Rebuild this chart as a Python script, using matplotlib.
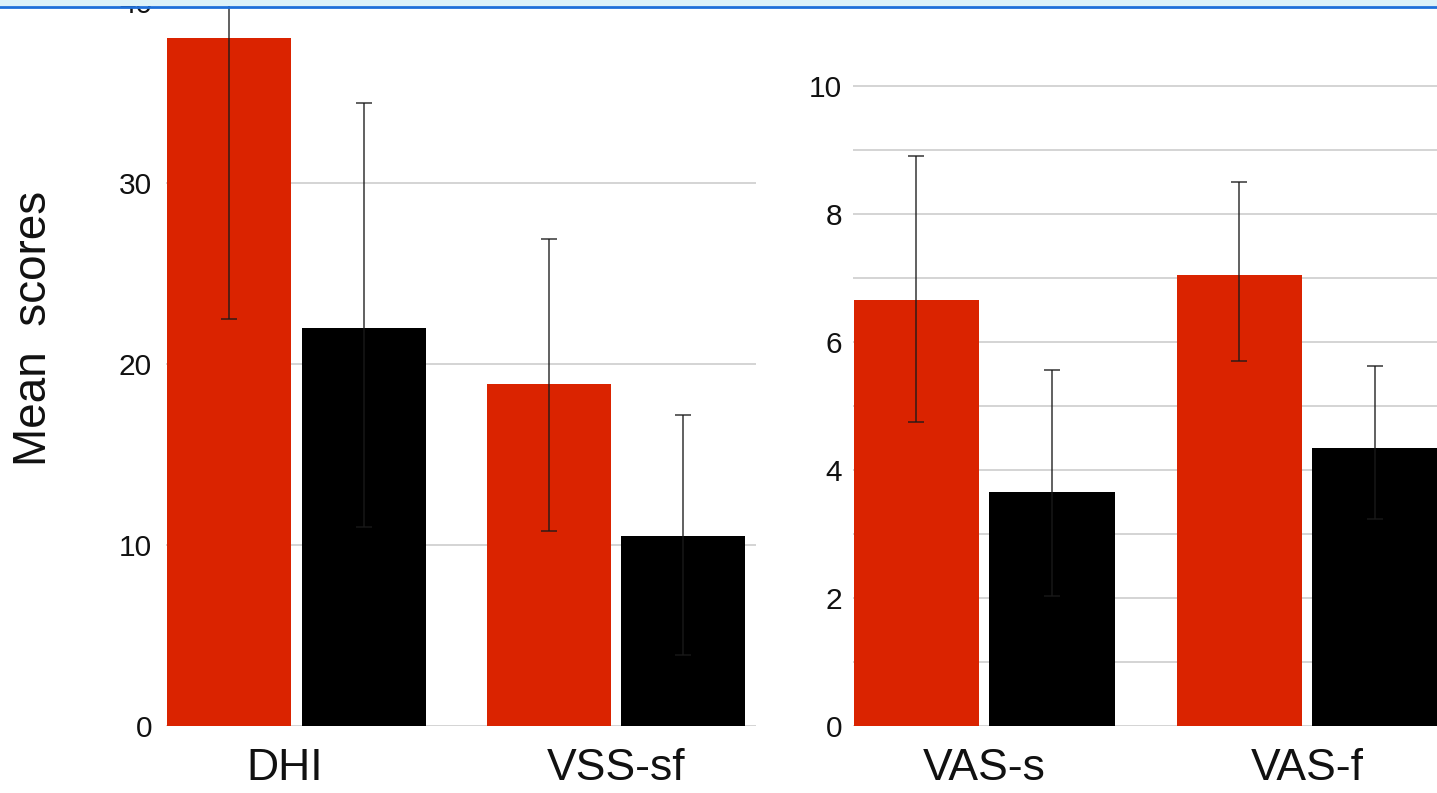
import matplotlib
matplotlib.use("Agg")
import matplotlib.pyplot as plt
from matplotlib.patches import Rectangle
from matplotlib.lines import Line2D
from matplotlib.ticker import MultipleLocator
from matplotlib.transforms import ScaledTranslation
import numpy as np

plt.rcParams['font.family'] = ['Liberation Sans', 'DejaVu Sans']

# ---- data ----
left_categories = ["DHI", "VSS-sf"]
left_red_mean = [38.0, 18.9]
left_red_lo = [15.5, 8.1]
left_red_hi = [15.5, 8.0]
left_black_mean = [22.0, 10.5]
left_black_lo = [11.0, 6.6]
left_black_hi = [12.4, 6.7]

right_categories = ["VAS-s", "VAS-f"]
right_red_mean = [6.65, 7.05]
right_red_lo = [1.9, 1.34]
right_red_hi = [2.25, 1.45]
right_black_mean = [3.65, 4.34]
right_black_lo = [1.62, 1.11]
right_black_hi = [1.92, 1.28]

left_yticks = [0, 10, 20, 30, 40]
right_yticks = [0, 2, 4, 6, 8, 10]

RED = "#da2300"
BLACK = "#000000"
GRID = "#d4d4d4"
ECOL = (0.1, 0.1, 0.1, 0.75)

W, H = 1437, 793
fig = plt.figure(figsize=(W / 100, H / 100), dpi=100)


def px_axes(x0, x1, y0, y1):
    # pixel box (top-left origin) -> figure fraction
    return [x0 / W, 1 - y1 / H, (x1 - x0) / W, (y1 - y0) / H]


def draw_panel(ax, cats, rm, rlo, rhi, bm, blo, bhi, width, off, xlim, ylim, yticks, minor):
    x = np.arange(len(cats))
    ax.bar(x - off, rm, width, color=RED, zorder=2)
    ax.bar(x + off, bm, width, color=BLACK, zorder=2)
    ax.errorbar(x - off, rm, yerr=[rlo, rhi], fmt="none", ecolor=ECOL,
                elinewidth=1.3, capsize=6, capthick=1.3, zorder=3)
    ax.errorbar(x + off, bm, yerr=[blo, bhi], fmt="none", ecolor=ECOL,
                elinewidth=1.3, capsize=6, capthick=1.3, zorder=3)
    ax.set_xlim(*xlim)
    ax.set_ylim(*ylim)
    ax.set_yticks(yticks)
    ax.set_yticklabels([str(t) for t in yticks], fontsize=21.5, color="#111111")
    if minor:
        ax.yaxis.set_minor_locator(MultipleLocator(minor))
        ax.grid(True, axis="y", which="minor", color=GRID, lw=1.4)
    ax.grid(True, axis="y", which="major", color=GRID, lw=1.4)
    ax.set_axisbelow(True)
    ax.set_xticks(x)
    ax.set_xticklabels(cats, fontsize=32, color="#111111")
    ax.tick_params(axis="both", which="both", length=0)
    ax.tick_params(axis="x", pad=16)
    for s in ax.spines.values():
        s.set_visible(False)
    ax.patch.set_alpha(0)


# left panel: 0 at y=726, 18.1 px per unit; group pitch 319.5 px
LH = 42 * 18.1
axL = fig.add_axes(px_axes(166, 756, 726 - LH, 726))
draw_panel(axL, left_categories, left_red_mean, left_red_lo, left_red_hi,
           left_black_mean, left_black_lo, left_black_hi,
           width=0.388, off=0.21, xlim=(-0.4085, 1.438), ylim=(0, 42),
           yticks=left_yticks, minor=None)
axL.tick_params(axis="y", pad=10)
axL.set_ylabel("Mean  scores", fontsize=33, color="#111111")
axL.yaxis.set_label_coords(-(166 - 56) / 590, (726 - 328) / LH)
# the DHI label sits slightly left of its group centre in the reference
lab0 = axL.get_xticklabels()[0]
lab0.set_transform(lab0.get_transform() + ScaledTranslation(-0.12, 0, fig.dpi_scale_trans))

# right panel: 0 at y=726, 64 px per unit; group pitch 323 px
axR = fig.add_axes(px_axes(853, 853 + 1.8356 * 323, 726 - 10.8 * 64, 726))
draw_panel(axR, right_categories, right_red_mean, right_red_lo, right_red_hi,
           right_black_mean, right_black_lo, right_black_hi,
           width=0.387, off=0.2105, xlim=(-0.4056, 1.43), ylim=(0, 10.8),
           yticks=right_yticks, minor=1)
axR.tick_params(axis="y", pad=8)

# top browser-like band
fig.patches.append(Rectangle((0, 1 - 6 / H), 1, 6 / H, transform=fig.transFigure,
                             facecolor="#dcf1f9", edgecolor="none", zorder=20))
fig.lines.append(Line2D([0, 1], [1 - 6.5 / H, 1 - 6.5 / H], transform=fig.transFigure,
                        color="#1e6fd9", lw=2, zorder=21))

fig.savefig("out.png", dpi=100)
